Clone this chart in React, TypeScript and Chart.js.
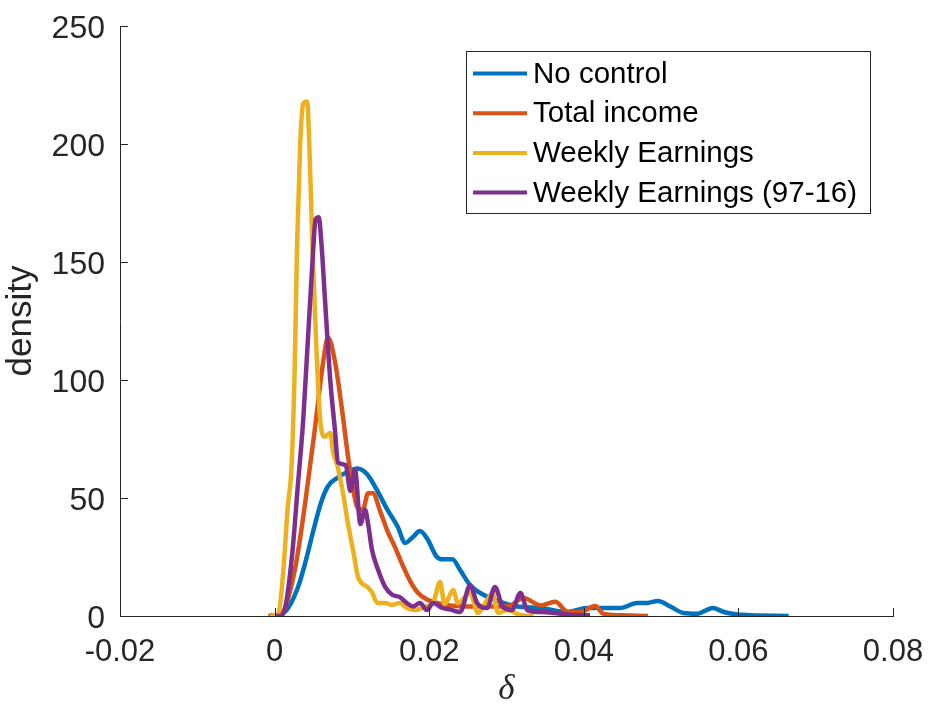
import { useEffect, useRef } from "react";
import { Chart, registerables } from "chart.js";

Chart.register(...registerables);

// Kernel density estimates of delta, one curve per specification
const seriesLabels = ["No control", "Total income", "Weekly Earnings", "Weekly Earnings (97-16)"];
const seriesColors = ["#0072BD", "#D95319", "#EDB120", "#7E2F8E"];

const noControlDelta = [-0.0006, 0.0014, 0.003, 0.004, 0.005, 0.006, 0.0069, 0.0081, 0.0094, 0.0107, 0.012, 0.0133, 0.0146, 0.0159, 0.0169, 0.0179, 0.0188, 0.0197, 0.021, 0.0218, 0.023, 0.024, 0.0253, 0.027, 0.0292, 0.0314, 0.0344, 0.0379, 0.0404, 0.0447, 0.0469, 0.0482, 0.0496, 0.0512, 0.0529, 0.0547, 0.0567, 0.0581, 0.0603, 0.0665];
const noControlDensity = [0, 2, 12, 23, 36, 48, 55, 58.5, 61, 62.5, 60, 53, 45, 38, 31, 33.5, 36, 33, 25, 24, 24, 19.5, 13, 9, 6, 4, 3.4, 1.7, 3.4, 3.4, 5.5, 5.5, 6.4, 4, 1.3, 1, 3.4, 1.7, 0.5, 0];

const totalIncomeDelta = [-0.0008, 0.0001, 0.001, 0.0027, 0.004, 0.0052, 0.0063, 0.0069, 0.0078, 0.0087, 0.0094, 0.0101, 0.0107, 0.0114, 0.0121, 0.0127, 0.0137, 0.0146, 0.0156, 0.0165, 0.0175, 0.0185, 0.0197, 0.021, 0.0227, 0.025, 0.0279, 0.0301, 0.0322, 0.0344, 0.0363, 0.038, 0.0395, 0.0415, 0.0425, 0.0447, 0.0483];
const totalIncomeDensity = [0, 0.3, 1.3, 21, 49, 79, 108, 118, 108, 88, 70, 55, 46, 45, 52, 52, 44, 36, 29, 22, 15, 10, 7, 5.5, 4.5, 4, 4, 4, 7.6, 4.5, 6, 1.7, 1.7, 4.2, 1, 0.3, 0];

const weeklyDelta = [-0.0006, 0.0005, 0.0011, 0.0017, 0.0022, 0.0026, 0.0029, 0.0033, 0.0037, 0.0042, 0.0045, 0.0049, 0.0054, 0.0059, 0.0065, 0.0072, 0.0076, 0.0081, 0.0088, 0.0095, 0.0102, 0.0108, 0.012, 0.0126, 0.0133, 0.0143, 0.0152, 0.0162, 0.0171, 0.0182, 0.0195, 0.0205, 0.0214, 0.022, 0.0231, 0.0237, 0.0253, 0.0263, 0.0275, 0.0282, 0.0289, 0.0301, 0.0318, 0.0335];
const weeklyDensity = [0, 1.3, 18, 46, 64, 105, 156, 199, 217, 218, 199, 156, 114, 83, 76, 77.5, 69, 64, 53, 39, 27, 16.5, 12.3, 10, 5.5, 5.5, 4.7, 5.5, 3.4, 2.5, 4, 5.5, 14.4, 5, 11, 5.5, 9.7, 1.3, 6.8, 9.7, 1.3, 2.5, 0.4, 0];

const weekly9716Delta = [0.0002, 0.0006, 0.0014, 0.0023, 0.003, 0.0037, 0.0042, 0.0049, 0.0053, 0.0057, 0.0061, 0.0065, 0.0072, 0.0078, 0.0082, 0.0092, 0.0098, 0.0104, 0.0111, 0.0117, 0.0121, 0.0126, 0.0134, 0.0143, 0.0152, 0.0162, 0.0171, 0.0179, 0.0188, 0.0197, 0.0205, 0.0217, 0.0227, 0.024, 0.0253, 0.0262, 0.0275, 0.0285, 0.0295, 0.0307, 0.0318, 0.0327, 0.0344, 0.0361, 0.0383, 0.0408];
const weekly9716Density = [0, 0, 4, 27, 55, 83, 111, 150, 168, 169, 156, 135, 100, 79, 65, 64, 53, 62, 39, 45, 39, 28, 19.5, 12.3, 9, 8, 5.5, 4, 5.5, 2.5, 5.5, 3.4, 2.8, 1.7, 13, 5.5, 3.4, 12.3, 4, 2.5, 9.7, 2.5, 1.7, 1.3, 0.5, 0.3];

const xTicks = [-0.02, 0, 0.02, 0.04, 0.06, 0.08];
const yTicks = [0, 50, 100, 150, 200, 250];

const AXIS_COLOR = "#262626";
const SANS = "'Liberation Sans', Arial, Helvetica, sans-serif";

const toPoints = (xs: number[], ys: number[]) => xs.map((x, i) => ({ x, y: ys[i] }));

// Tick marks pointing into the plot area
const inwardTicks = {
  id: "inwardTicks",
  afterDraw(chart: any) {
    const { ctx, chartArea, scales } = chart;
    ctx.save();
    ctx.strokeStyle = AXIS_COLOR;
    ctx.lineWidth = 1;
    const len = 8;
    scales.x.ticks.forEach((t: any) => {
      const px = Math.round(scales.x.getPixelForValue(t.value)) + 0.5;
      ctx.beginPath();
      ctx.moveTo(px, chartArea.bottom);
      ctx.lineTo(px, chartArea.bottom - len);
      ctx.stroke();
    });
    scales.y.ticks.forEach((t: any) => {
      const py = Math.round(scales.y.getPixelForValue(t.value)) + 0.5;
      ctx.beginPath();
      ctx.moveTo(chartArea.left, py);
      ctx.lineTo(chartArea.left + len, py);
      ctx.stroke();
    });
    ctx.restore();
  },
};

// Boxed legend in the upper right of the plot
const boxedLegend = {
  id: "boxedLegend",
  afterDraw(chart: any) {
    const { ctx } = chart;
    const box = { x: 466.5, y: 51.5, w: 404, h: 162 };
    ctx.save();
    ctx.fillStyle = "#ffffff";
    ctx.fillRect(box.x, box.y, box.w, box.h);
    ctx.strokeStyle = AXIS_COLOR;
    ctx.lineWidth = 1;
    ctx.strokeRect(box.x, box.y, box.w, box.h);
    ctx.font = `29.5px ${SANS}`;
    ctx.textBaseline = "middle";
    ctx.textAlign = "left";
    chart.data.datasets.forEach((ds: any, i: number) => {
      const cy = 73.5 + i * 39.7;
      ctx.strokeStyle = ds.borderColor;
      ctx.lineWidth = 4;
      ctx.beginPath();
      ctx.moveTo(473, cy);
      ctx.lineTo(527, cy);
      ctx.stroke();
      ctx.fillStyle = "#000000";
      ctx.fillText(ds.label, 533, cy + 1);
    });
    ctx.restore();
  },
};

export default function App() {
  const canvasRef = useRef<HTMLCanvasElement | null>(null);

  useEffect(() => {
    const canvas = canvasRef.current;
    if (!canvas) return;
    const sets = [
      toPoints(noControlDelta, noControlDensity),
      toPoints(totalIncomeDelta, totalIncomeDensity),
      toPoints(weeklyDelta, weeklyDensity),
      toPoints(weekly9716Delta, weekly9716Density),
    ];
    const chart = new Chart(canvas, {
      type: "line",
      data: {
        datasets: sets.map((data, i) => ({
          label: seriesLabels[i],
          data,
          borderColor: seriesColors[i],
          backgroundColor: seriesColors[i],
          borderWidth: 4.5,
          pointRadius: 0,
          fill: false,
          cubicInterpolationMode: "monotone" as const,
          order: sets.length - i,
        })),
      },
      options: {
        responsive: false,
        animation: false,
        devicePixelRatio: 1,
        layout: { padding: { top: 26, right: 37, left: 0, bottom: 0 } },
        plugins: { legend: { display: false }, tooltip: { enabled: false } },
        scales: {
          x: {
            type: "linear",
            min: -0.02,
            max: 0.08,
            afterBuildTicks: (scale: any) => {
              scale.ticks = xTicks.map((value) => ({ value }));
            },
            afterFit: (scale: any) => {
              scale.height = 95;
              scale.paddingLeft = 0;
              scale.paddingRight = 0;
            },
            grid: { display: false },
            border: { display: true, color: AXIS_COLOR, width: 1 },
            ticks: {
              color: AXIS_COLOR,
              font: { family: SANS, size: 31 },
              padding: 10,
              maxRotation: 0,
              autoSkip: false,
              callback: (v: any) => (Math.abs(Number(v)) < 1e-12 ? "0" : String(Number(v))),
            },
            title: {
              display: true,
              text: "δ",
              color: AXIS_COLOR,
              font: { family: "'Liberation Serif', 'DejaVu Serif', serif", size: 35, style: "italic", lineHeight: 1 },
              padding: { top: 0, bottom: 3.5 },
            },
          },
          y: {
            type: "linear",
            min: 0,
            max: 250,
            afterBuildTicks: (scale: any) => {
              scale.ticks = yTicks.map((value) => ({ value }));
            },
            afterFit: (scale: any) => {
              scale.width = 120;
              scale.paddingTop = 0;
              scale.paddingBottom = 0;
            },
            grid: { display: false },
            border: { display: true, color: AXIS_COLOR, width: 1 },
            ticks: {
              color: AXIS_COLOR,
              font: { family: SANS, size: 32 },
              padding: 7,
              labelOffset: 3,
              autoSkip: false,
            },
            title: {
              display: true,
              text: "density",
              color: AXIS_COLOR,
              font: { family: SANS, size: 35, lineHeight: 1 },
              padding: { top: 4, bottom: 0 },
            },
          },
        },
      },
      plugins: [inwardTicks, boxedLegend],
    });
    return () => chart.destroy();
  }, []);

  return (
    <div style={{ position: "absolute", left: 0, top: 0, width: 930, height: 711, background: "#ffffff" }}>
      <canvas ref={canvasRef} width={930} height={711} style={{ width: 930, height: 711, display: "block" }} />
    </div>
  );
}
